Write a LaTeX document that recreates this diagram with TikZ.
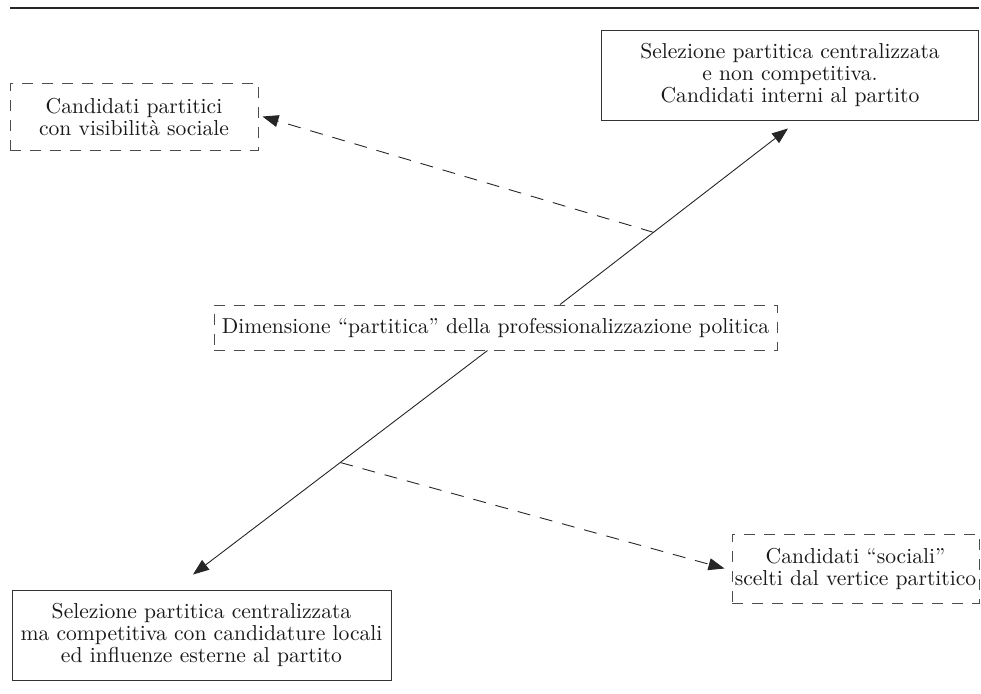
\documentclass[tikz,border=0pt]{standalone}
\usepackage{tikz}
\usetikzlibrary{arrows.meta,calc}

\begin{document}
\begin{tikzpicture}[x=.5pt,y=-.5pt,
    every node/.style={align=center,inner sep=0pt,text=black!90,
      font=\fontsize{10.8}{11}\selectfont},
    piena/.style={draw=black!80,line width=.5pt},
    tratt/.style={draw=black!70,line width=.5pt,dash pattern=on 5.5pt off 4.5pt},
    freccia/.style={black!85,line width=.45pt,-{Triangle[length=8pt,width=6pt]}}]
  \useasboundingbox (0,0) rectangle (981,693);
  \draw[black!85,line width=.6pt] (10,8) -- (979,8);

  \node[piena,minimum width=188.5pt,minimum height=45pt] (selnc) at (790,75)
    {Selezione partitica centralizzata\\ e non competitiva.\\ Candidati interni al partito};
  \node[tratt,minimum width=124pt,minimum height=33.5pt] (candp) at (134,116.5)
    {Candidati partitici\\ con visibilità sociale};
  \node[tratt,minimum width=281.5pt,minimum height=22.5pt] (dim) at (495.5,327.5)
    {Dimensione “partitica” della professionalizzazione politica};
  \node[tratt,minimum width=123.5pt,minimum height=34.5pt] (cands) at (855.5,568.5)
    {Candidati “sociali”\\ scelti dal vertice partitico};
  \node[piena,minimum width=189.5pt,minimum height=45pt] (selc) at (201.5,635)
    {Selezione partitica centralizzata\\ ma competitiva con candidature locali\\ ed influenze esterne al partito};

  \coordinate (su) at ($(dim.north)+(32.25pt,0)$);
  \coordinate (tu) at ($(selnc.south)+(-1pt,-4pt)$);
  \coordinate (sd) at ($(dim.south)+(-4pt,0)$);
  \coordinate (td) at ($(selc.north)+(-4.25pt,7.5pt)$);

  \draw[freccia] (su) -- (tu);
  \draw[freccia] (sd) -- (td);
  \draw[freccia,dash pattern=on 6.5pt off 5pt] ($(su)!.41!(tu)$) -- ($(candp.east)+(2pt,0)$);
  \draw[freccia,dash pattern=on 6.5pt off 5pt] ($(sd)!.5!(td)$) -- ($(cands.west)+(-3.5pt,0)$);
\end{tikzpicture}
\end{document}
